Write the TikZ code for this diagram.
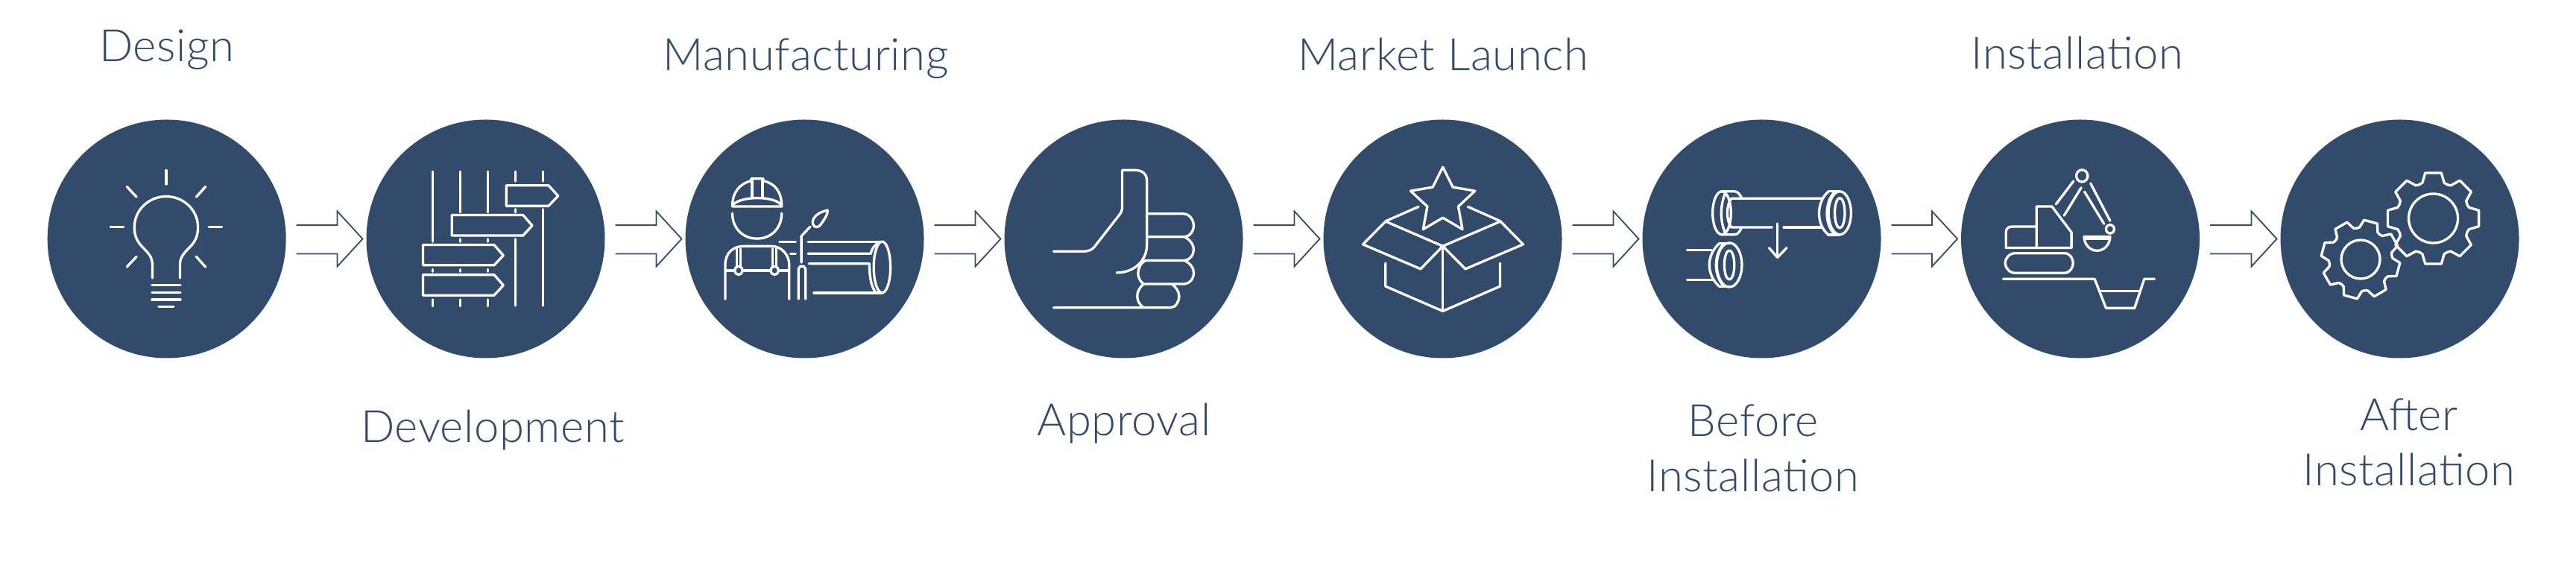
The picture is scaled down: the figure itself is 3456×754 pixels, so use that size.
\documentclass[tikz,border=0pt]{standalone}
\usepackage{fontspec}
\setmainfont{Lato}[UprightFont=* Light,LetterSpace=1]
\definecolor{navy}{HTML}{324B6B}
\tikzset{
  stage/.style={circle,fill=navy,inner sep=0pt,outer sep=0pt,minimum size=32mm},
  caption/.style={text=navy,inner sep=0pt,anchor=base,align=center,font=\fontsize{17}{21.3}\selectfont},
  flow/.style={draw=navy,line width=0.18mm,miter limit=20},
  icon/.style={draw=white,line width=0.33mm,line cap=round,line join=round},
  zoomA/.style={shift={(40,140)},xscale=0.5612,yscale=0.3367},
  zoomB/.style={shift={(900,140)},xscale=0.5612,yscale=0.3367},
  zoomC/.style={shift={(1760,140)},xscale=0.5612,yscale=0.3367},
  zoomD/.style={shift={(2600,140)},xscale=0.5459,yscale=0.3367}
}
\newcommand{\gearicon}[5]{%
  \begin{scope}[shift={(#1,#2)},rotate=#5]
    \draw[icon] (-17:#4) \foreach \a in {0,45,...,315} {
      -- ({\a-17}:#4) -- ({\a-10}:#3) -- ({\a+10}:#3) -- ({\a+17}:#4) -- ({\a+22.5}:#4-1)
    } -- cycle;
  \end{scope}}

\begin{document}
\begin{tikzpicture}[x=0.1mm,y=-0.1mm]
  \useasboundingbox (0,0) rectangle (3456,754);

  % stages
  \foreach \name/\x in {design/223.7,development/651.5,manufacturing/1079.5,approval/1507.5,market/1935.5,before/2363.5,install/2791,after/3219.5}
    \node[stage] (\name) at (\x,320.5) {};

  % captions
  \node[caption] (designtext) at (224,83) {Design};
  \node[caption] (developmenttext) at (661,594) {Development};
  \node[caption] (manufacturingtext) at (1081,95) {Manufacturing};
  \node[caption] (approvaltext) at (1508,585) {Approval};
  \node[caption] (markettext) at (1936,95) {Market Launch};
  \node[caption] (beforetext) at (2352,660) {Before\\Installation};
  \node[caption] (installtext) at (2787,93) {Installation};
  \node[caption] (aftertext) at (3232,652) {After\\Installation};

  % open arrows between the stages
  \foreach \a/\b in {design/development,development/manufacturing,manufacturing/approval,approval/market,market/before,before/install,install/after}
    \draw[flow] ([shift={(14,-18.5)}]\a.east) -- ([shift={(-39,-18.5)}]\b.west) -- ([shift={(-39,-37)}]\b.west)
      -- ([shift={(-5,0)}]\b.west) -- ([shift={(-39,37)}]\b.west) -- ([shift={(-39,20)}]\b.west) -- ([shift={(14,20)}]\a.east);

  % bulb
  \begin{scope}[zoomA]
    \draw[icon] (326,263) -- (326,318);
    \draw[icon] (232,328) -- (255,369);
    \draw[icon] (420,328) -- (398,369);
    \draw[icon] (193,488) -- (224,488);
    \draw[icon] (428,488) -- (459,488);
    \draw[icon] (255,607) -- (232,648);
    \draw[icon] (398,607) -- (420,648);
    \draw[icon] (293,692) -- (293,640) .. controls (293,610) and (285,595) .. (270,570) .. controls (255,545) and (250,520) .. (250,490)
      .. controls (250,420) and (285,367) .. (326,367) .. controls (367,367) and (402,420) .. (402,490)
      .. controls (402,520) and (397,545) .. (382,570) .. controls (367,595) and (359,610) .. (359,640) -- (359,692);
    \draw[icon] (292,720) -- (360,720);
    \draw[icon] (292,749) -- (360,749);
    \draw[icon] (292,778) -- (360,778);
    \draw[icon] (308,806) -- (344,806);
  \end{scope}

  % signposts
  \begin{scope}[zoomA]
    \draw[icon] (963,268) -- (963,547) (963,658) -- (963,666) (963,778) -- (963,804);
    \draw[icon] (1029,268) -- (1029,430) (1029,537) -- (1029,547) (1029,658) -- (1029,666) (1029,778) -- (1029,804);
    \draw[icon] (1095,268) -- (1095,430) (1095,537) -- (1095,547) (1095,658) -- (1095,666) (1095,778) -- (1095,804);
    \draw[icon] (1161,268) -- (1161,306) (1161,418) -- (1161,430) (1161,537) -- (1161,802);
    \draw[icon] (1227,268) -- (1227,306) (1227,418) -- (1227,802);
    \draw[icon] (1139,323) -- (1240,323) -- (1263,365) -- (1240,405) -- (1139,405) -- cycle;
    \draw[icon] (1009,441) -- (1179,441) -- (1201,483) -- (1179,523) -- (1009,523) -- cycle;
    \draw[icon] (940,560) -- (1110,560) -- (1132,602) -- (1110,641) -- (940,641) -- cycle;
    \draw[icon] (940,679) -- (1110,679) -- (1132,721) -- (1110,761) -- (940,761) -- cycle;
  \end{scope}

  % worker and pipe
  \begin{scope}[zoomB]
    \draw[icon] (147,407) -- (265,407) .. controls (265,350) and (250,315) .. (221,305) -- (221,296) -- (192,296) -- (192,305) .. controls (165,315) and (147,350) .. (147,407);
    \draw[icon] (194,305) -- (194,372) (219,305) -- (219,372);
    \draw[icon] (150,398) .. controls (170,365) and (245,365) .. (262,398);
    \draw[icon] (147,434) .. controls (147,490) and (170,535) .. (206,535) .. controls (242,535) and (265,490) .. (265,434);
    \draw[icon] (130,776) -- (130,640) .. controls (130,590) and (150,565) .. (175,565) -- (240,565) .. controls (265,565) and (283,600) .. (283,640) -- (283,776);
    \draw[icon] (158,575) -- (158,648) (167,575) -- (167,648) (243,575) -- (243,648) (252,575) -- (252,648);
    \draw[icon] (162,662) ellipse [x radius=9,y radius=17];
    \draw[icon] (248,662) ellipse [x radius=9,y radius=17];
    \draw[icon] (130,662) -- (153,662) (171,662) -- (239,662) (257,662) -- (282,662);
    \draw[icon] (312,630) -- (312,525) -- (333,488);
    \draw[icon] (375,422) .. controls (350,430) and (335,455) .. (340,480) .. controls (345,495) and (355,490) .. (360,475) .. controls (368,455) and (375,440) .. (375,422);
    \draw[icon] (305,776) -- (305,655) -- (310,645) -- (317,645) -- (322,655) -- (322,776);
    \draw[icon] (260,547) -- (298,547) (328,547) -- (500,547);
    \draw[icon] (286,595) -- (298,595);
    \draw[icon] (328,595) -- (478,595) .. controls (480,575) and (487,560) .. (500,547);
    \draw[icon] (330,635) -- (475,635) -- (475,650) .. controls (475,690) and (480,730) .. (490,750);
    \draw[icon] (342,751) -- (505,751);
    \draw[icon] (505,649) ellipse [x radius=20,y radius=102];
  \end{scope}

  % thumb
  \begin{scope}[zoomB]
    \draw[icon] (915,586) -- (985,586) .. controls (1000,586) and (1008,578) .. (1013,567) -- (1070,445) .. controls (1078,430) and (1079,420) .. (1079,405)
      -- (1079,262) -- (1108,262) .. controls (1128,262) and (1138,278) .. (1138,305) -- (1138,560) .. controls (1138,620) and (1110,670) .. (1066,671);
    \draw[icon] (1140,436) -- (1225,436) .. controls (1240,436) and (1250,460) .. (1250,485) .. controls (1250,505) and (1240,528) .. (1228,528) -- (1140,528);
    \draw[icon] (1228,528) .. controls (1242,540) and (1250,560) .. (1250,578) .. controls (1250,600) and (1240,622) .. (1228,622) -- (1135,622);
    \draw[icon] (1228,622) .. controls (1242,635) and (1250,650) .. (1250,672) .. controls (1250,695) and (1240,716) .. (1225,716) -- (1130,716) .. controls (1118,700) and (1115,680) .. (1118,660) .. controls (1120,645) and (1125,630) .. (1135,622);
    \draw[icon] (1130,716) .. controls (1120,730) and (1115,748) .. (1115,765) .. controls (1115,785) and (1122,800) .. (1130,810);
    \draw[icon] (1198,716) .. controls (1208,730) and (1215,745) .. (1215,765) .. controls (1215,785) and (1207,810) .. (1195,810) -- (915,810);
  \end{scope}

  % box and star
  \begin{scope}[zoomC]
    \draw[icon] (313,250) -- (337,330) -- (390,345) -- (350,407) -- (360,498) -- (313,452) -- (266,498) -- (276,407) -- (236,345) -- (289,330) -- cycle;
    \draw[icon] (255,408) -- (177,465) -- (122,558) -- (260,656) -- (313,565) -- (177,467);
    \draw[icon] (373,408) -- (450,465) -- (505,558) -- (367,656) -- (313,565) -- (450,467);
    \draw[icon] (176,633) -- (176,725) -- (313,824) -- (450,725) -- (450,633);
    \draw[icon] (313,565) -- (313,824);
  \end{scope}

  % pipe sections
  \begin{scope}[zoomC]
    \draw[icon] (980,433) ellipse [x radius=22,y radius=86];
    \draw[icon] (990,348) .. controls (975,400) and (975,470) .. (990,518);
    \draw[icon] (980,347) -- (1010,347) .. controls (1018,347) and (1023,358) .. (1027,372);
    \draw[icon] (980,519) -- (1010,519) .. controls (1018,519) and (1023,508) .. (1027,492);
    \draw[icon] (1220,375) -- (1003,375) .. controls (990,400) and (990,465) .. (1003,490) -- (1100,490);
    \draw[icon] (1128,490) -- (1218,490);
    \draw[icon] (1262,433) ellipse [x radius=27,y radius=86];
    \draw[icon] (1262,433) ellipse [x radius=12,y radius=60];
    \draw[icon] (1235,347) .. controls (1205,390) and (1205,480) .. (1235,520);
    \draw[icon] (1250,348) .. controls (1225,390) and (1225,480) .. (1250,518);
    \draw[icon] (1235,347) -- (1262,347) (1235,520) -- (1262,520);
    \draw[icon] (1113,475) -- (1113,610);
    \draw[icon] (1093,572) -- (1113,610) -- (1135,572);
    \draw[icon] (897,580) -- (955,580) (897,700) -- (958,700);
    \draw[icon] (998,640) ellipse [x radius=30,y radius=88];
    \draw[icon] (998,640) ellipse [x radius=12,y radius=58];
    \draw[icon] (975,553) .. controls (942,600) and (942,680) .. (975,727);
    \draw[icon] (985,554) .. controls (960,600) and (960,680) .. (985,726);
    \draw[icon] (975,553) -- (998,553) (975,727) -- (998,727);
  \end{scope}

  % excavator
  \begin{scope}[zoomD]
    \draw[icon] (242,570) -- (242,407) -- (280,407) -- (328,510) -- (328,572) -- (167,572) -- (167,510) .. controls (167,495) and (172,487) .. (185,487) -- (242,487);
    \draw[icon] (190,593) -- (310,593) .. controls (325,593) and (332,615) .. (332,632) .. controls (332,650) and (325,672) .. (310,672) -- (190,672) .. controls (175,672) and (165,650) .. (165,632) .. controls (165,615) and (175,593) .. (190,593) -- cycle;
    \draw[icon] (290,398) -- (333,306);
    \draw[icon] (310,443) -- (352,332);
    \draw[icon] (360,348) -- (408,476);
    \draw[icon] (375,315) -- (423,464);
    \draw[icon] (354,285) ellipse [x radius=14,y radius=24];
    \draw[icon] (423,497) ellipse [x radius=10,y radius=18];
    \draw[icon] (359,527) -- (423,527) .. controls (423,555) and (410,583) .. (391,583) .. controls (372,583) and (359,555) .. (359,527) -- cycle;
    \draw[icon] (363,537) -- (420,537);
    \draw[icon] (160,696) -- (385,696) -- (413,812) -- (483,812) -- (507,696) -- (532,696);
    \draw[icon] (398,745) -- (495,745);
  \end{scope}

  % gears
  \gearicon{3264.5}{293}{62}{50}{0}
  \draw[icon] (3264.5,293) circle (33);
  \gearicon{3167}{348}{53}{43}{-15}
  \draw[icon] (3167,348) circle (26);
\end{tikzpicture}
\end{document}
